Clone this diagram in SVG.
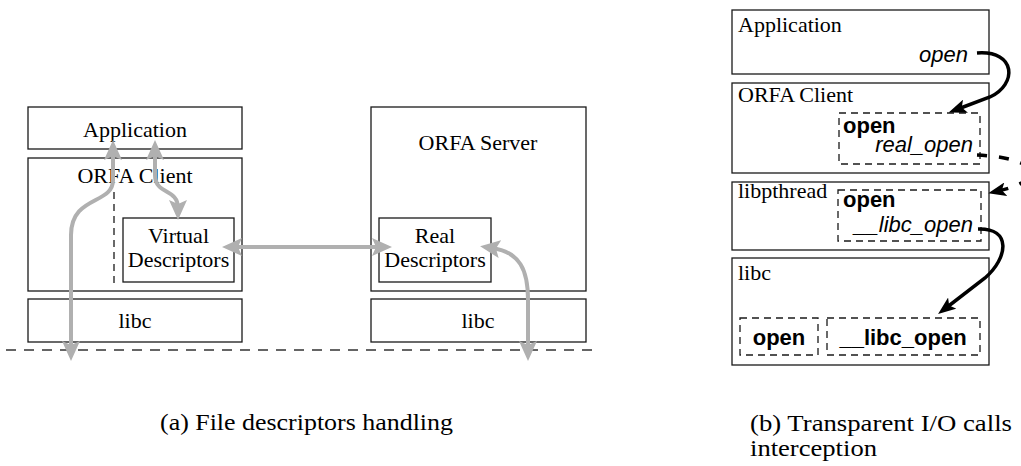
<svg xmlns="http://www.w3.org/2000/svg" width="1021" height="466" viewBox="0 0 1021 466">
<style>
.box{fill:#fff;stroke:#1a1a1a;stroke-width:1.3}
.dbox{fill:none;stroke:#1a1a1a;stroke-width:1.3;stroke-dasharray:7 5}
.serif{font-family:"Liberation Serif","Times New Roman",serif;font-size:22px;fill:#000}
.sans{font-family:"Liberation Sans",Arial,sans-serif;font-size:22px;fill:#000}
.it{font-style:italic}
.bd{font-weight:bold}
.mid{text-anchor:middle}
.end{text-anchor:end}
.grey{fill:none;stroke:#b0b0b0;stroke-width:4}
.blk{fill:none;stroke:#000;stroke-width:3.5}
.cap{font-family:"Liberation Serif","Times New Roman",serif;font-size:23px;fill:#000}
</style>
<defs>
<marker id="ga" viewBox="0 0 20 18" refX="8" refY="9" markerWidth="20" markerHeight="18" markerUnits="userSpaceOnUse" orient="auto-start-reverse">
<path d="M0,0 L20,9 L0,18 L4,9 z" fill="#b0b0b0"/>
</marker>
<marker id="ba" viewBox="0 0 18 14" refX="8" refY="7" markerWidth="18" markerHeight="14" markerUnits="userSpaceOnUse" orient="auto">
<path d="M0,0 L18,7 L0,14 L4,7 z" fill="#000"/>
</marker>
</defs>
<rect width="1021" height="466" fill="#fff"/>

<!-- Panel (a) -->
<g id="a-application"><rect class="box" x="28" y="107" width="214" height="42"/><text class="serif mid" x="135" y="137">Application</text></g>
<g id="a-orfa-client"><rect class="box" x="28" y="158" width="214" height="133"/><text class="serif mid" x="135" y="183">ORFA Client</text>
<line x1="114" y1="192" x2="114" y2="287" stroke="#1a1a1a" stroke-width="1.3" stroke-dasharray="7 5"/></g>
<g id="a-virtual"><rect class="box" x="123" y="218" width="111" height="64"/><text class="serif mid" x="178.5" y="243">Virtual</text><text class="serif mid" x="178.5" y="267">Descriptors</text></g>
<g id="a-libc-client"><rect class="box" x="28" y="299" width="214" height="43"/><text class="serif mid" x="135" y="328">libc</text></g>
<g id="a-orfa-server"><rect class="box" x="371" y="107" width="215" height="184"/><text class="serif mid" x="478" y="150">ORFA Server</text></g>
<g id="a-real"><rect class="box" x="379" y="218" width="112" height="64"/><text class="serif mid" x="435" y="243">Real</text><text class="serif mid" x="435" y="267">Descriptors</text></g>
<g id="a-libc-server"><rect class="box" x="371" y="299" width="215" height="43"/><text class="serif mid" x="478" y="328">libc</text></g>
<line id="a-network" x1="6" y1="350" x2="600" y2="350" stroke="#333" stroke-width="1.5" stroke-dasharray="10 8"/>

<!-- Panel (b) -->
<g id="b-application"><rect class="box" x="732" y="10" width="257" height="64"/><text class="serif" x="738" y="32">Application</text><text class="sans it end" x="968" y="62">open</text></g>
<g id="b-orfa-client"><rect class="box" x="732" y="83" width="257" height="90"/><text class="serif" x="738" y="102">ORFA Client</text>
<rect class="dbox" x="839" y="113" width="141" height="51"/><text class="sans bd" x="843" y="133">open</text><text class="sans it end" x="973" y="152">real_open</text></g>
<g id="b-libpthread"><rect class="box" x="732" y="182" width="257" height="68"/><text class="serif" x="738" y="198">libpthread</text>
<rect class="dbox" x="838" y="190" width="143" height="51"/><text class="sans bd" x="843" y="207">open</text><text class="sans it end" x="973" y="232">__libc_open</text></g>
<g id="b-libc"><rect class="box" x="732" y="258" width="257" height="107"/><text class="serif" x="738" y="280">libc</text>
<rect class="dbox" x="740" y="318" width="78" height="37"/><text class="sans bd mid" x="779" y="345">open</text>
<rect class="dbox" x="827" y="318" width="153" height="37"/><text class="sans bd mid" x="903" y="345">__libc_open</text></g>

<g id="connectors">
<path class="grey" d="M71,349 L71,235 C71,195 113,205 113,180 L113,152" marker-start="url(#ga)" marker-end="url(#ga)"/>
<path class="grey" d="M155,152 L155,175 C155,195 178,188 178,208" marker-start="url(#ga)" marker-end="url(#ga)"/>
<path class="grey" d="M234,247 L380,247" marker-start="url(#ga)" marker-end="url(#ga)"/>
<path class="grey" d="M492,248 C520,252 528,270 528,300 L528,349" marker-start="url(#ga)" marker-end="url(#ga)"/>
<path class="blk" d="M977,53 C1017,50 1017,85 990,97 L958,109" marker-end="url(#ba)"/>
<path class="blk" d="M977,155 C1040,158 1048,180 998,191" stroke-dasharray="10 12" marker-end="url(#ba)"/>
<path class="blk" d="M978,229 C1012,228 1008,258 985,278 L946,308" marker-end="url(#ba)"/>
</g>

<text class="cap" x="160" y="430" textLength="293" lengthAdjust="spacingAndGlyphs">(a) File descriptors handling</text>
<text class="cap" x="750" y="431" textLength="262" lengthAdjust="spacingAndGlyphs">(b) Transparent I/O calls</text>
<text class="cap" x="750" y="456" textLength="127" lengthAdjust="spacingAndGlyphs">interception</text>
</svg>
